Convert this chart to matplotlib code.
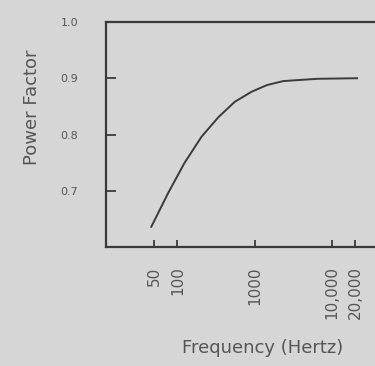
import matplotlib
matplotlib.use("Agg")
import matplotlib.pyplot as plt
from matplotlib.ticker import FixedLocator, FixedFormatter, NullLocator

freq = [46, 76, 123, 205, 340, 550, 910, 1450, 2350, 6500, 21000]
power_factor = [0.636, 0.696, 0.749, 0.796, 0.831, 0.858, 0.876, 0.888, 0.895, 0.899, 0.900]

x_ticks = [50, 100, 1000, 10000, 20000]
x_tick_labels = ["50", "100", "1000", "10,000", "20,000"]
y_ticks = [0.7, 0.8, 0.9, 1.0]
y_tick_labels = ["0.7", "0.8", "0.9", "1.0"]

bg = "#d6d6d6"
ink = "#3a3a3a"
txt = "#555555"

fig = plt.figure(figsize=(3.75, 3.66), dpi=100, facecolor=bg)
ax = fig.add_axes([0.283, 0.325, 0.72, 0.615], facecolor=bg)

ax.plot(freq, power_factor, color=ink, linewidth=1.4)

ax.set_xscale("log")
ax.set_xlim(12, 37000)
ax.set_ylim(0.6, 1.0)

ax.xaxis.set_major_locator(FixedLocator(x_ticks))
ax.xaxis.set_major_formatter(FixedFormatter(x_tick_labels))
ax.xaxis.set_minor_locator(NullLocator())
ax.set_yticks(y_ticks)
ax.set_yticklabels(y_tick_labels)

for lbl in ax.get_xticklabels():
    lbl.set_rotation(90)

ax.tick_params(axis="both", direction="in", width=1.3, color=ink, labelcolor=txt)
ax.tick_params(axis="x", length=5, pad=14, labelsize=11)
ax.tick_params(axis="y", length=7, pad=20, labelsize=8)

for s in ["left", "bottom", "top"]:
    ax.spines[s].set_color(ink)
    ax.spines[s].set_linewidth(1.6)
ax.spines["right"].set_visible(False)

ax.set_ylabel("Power Factor", color=txt, fontsize=13)
ax.set_xlabel("Frequency (Hertz)", color=txt, fontsize=13)
ax.yaxis.set_label_coords(-0.24, 0.62)
ax.xaxis.set_label_coords(0.578, -0.41)

fig.savefig("out.png", dpi=100, facecolor=bg)
